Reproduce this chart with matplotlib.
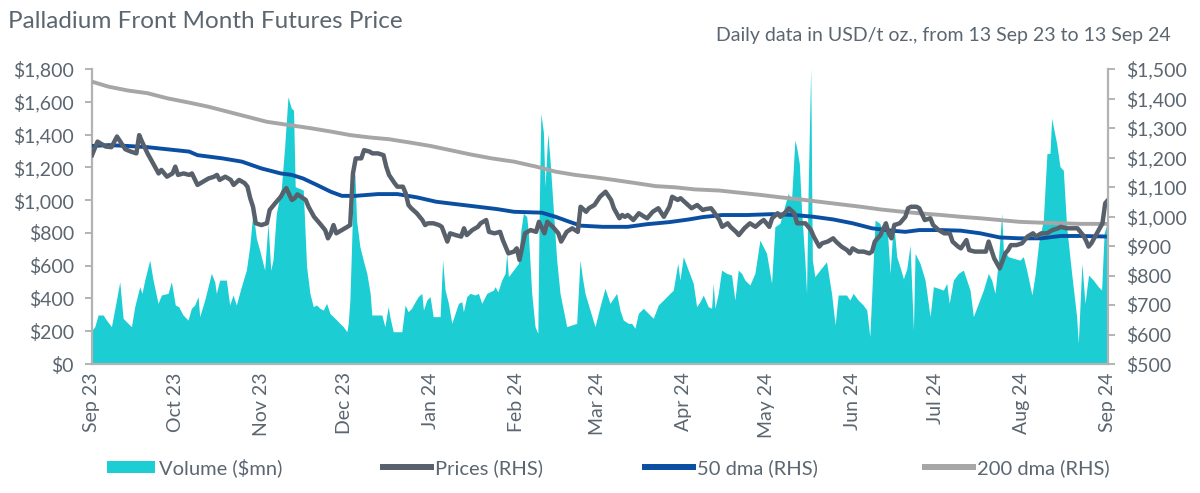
import numpy as np
import pandas as pd
import matplotlib
matplotlib.use("Agg")
import matplotlib.pyplot as plt
import matplotlib.dates as mdates
from matplotlib.patches import Patch
from matplotlib.lines import Line2D
from matplotlib.ticker import FuncFormatter, MultipleLocator

START = "2023-09-13"
END = "2024-09-13"

# (days after 13 Sep 23, value)
volume_pts = [
    (0, 207), (1.0, 228), (2.2, 299), (4.0, 299), (5.2, 268), (7.0, 228), (8.8, 390), (10.0, 502),
    (11.2, 279), (12.4, 258), (14.2, 228), (15.4, 350), (17.2, 472), (18.0, 431), (19.0, 512),
    (20.8, 634), (22.0, 512), (23.8, 370), (25.0, 421), (27.4, 431), (28.6, 502), (30.0, 360),
    (31.2, 350), (32.8, 299), (34.6, 268), (35.8, 340), (37.0, 360), (38.2, 411), (38.8, 289),
    (40.6, 390), (43.0, 553), (44.2, 502), (44.8, 431), (46.0, 512), (48.4, 512), (49.6, 360),
    (50.8, 421), (52.0, 360), (53.8, 472), (55.6, 573), (56.8, 716), (58.0, 929), (59.2, 767),
    (60.4, 695), (62.2, 573), (63.4, 858), (64.4, 573), (65.2, 634), (66.4, 919), (68.2, 1072),
    (69.4, 1326), (70.6, 1631), (71.8, 1560), (72.6, 1549), (73.2, 1082), (76.1, 1061), (77.3, 594),
    (78.5, 431), (79.7, 350), (80.9, 360), (82.1, 340), (83.3, 329), (84.5, 370), (85.7, 309),
    (87.5, 279), (89.3, 248), (90.5, 228), (91.8, 197), (92.3, 248), (92.9, 390), (93.5, 716),
    (94.1, 1082), (94.7, 1163), (95.3, 878), (96.5, 716), (97.7, 634), (99.0, 553), (100.2, 431),
    (100.8, 299), (102.6, 299), (104.4, 299), (105.5, 228), (106.7, 350), (107.3, 289), (108.5, 197),
    (110.3, 197), (111.6, 197), (112.8, 360), (113.9, 319), (115.1, 340), (116.4, 380), (117.5, 411),
    (118.8, 431), (119.4, 329), (120.6, 390), (121.8, 411), (122.9, 289), (125.4, 289), (126.3, 634),
    (127.2, 451), (128.4, 370), (129.6, 248), (130.8, 309), (132.0, 370), (133.2, 380), (133.8, 319),
    (135.0, 411), (136.2, 431), (138.0, 421), (139.2, 431), (140.4, 370), (142.2, 431), (144.6, 451),
    (145.2, 472), (146.2, 440), (147.6, 512), (148.8, 553), (149.4, 675), (150.0, 533), (151.8, 573),
    (153.6, 614), (154.5, 817), (155.4, 919), (156.6, 899), (157.2, 797), (158.4, 431), (159.6, 228),
    (160.6, 187), (161.1, 939), (161.7, 1529), (162.6, 1417), (163.2, 1082), (164.2, 1407),
    (165.0, 1244), (166.2, 939), (167.4, 634), (168.6, 431), (171.0, 228), (172.8, 238), (174.6, 248),
    (175.8, 634), (176.6, 533), (177.6, 431), (179.4, 329), (181.2, 228), (183.0, 350), (184.8, 462),
    (186.6, 370), (189.0, 431), (190.2, 329), (191.4, 268), (193.2, 248), (194.4, 248), (195.6, 218),
    (196.8, 309), (198.6, 340), (200.4, 309), (202.2, 279), (204.0, 360), (205.8, 390), (207.6, 421),
    (209.4, 451), (211.0, 614), (211.8, 512), (213.0, 655), (214.8, 573), (216.6, 492), (217.8, 350),
    (219.0, 380), (220.2, 420), (222.0, 350), (223.2, 340), (223.8, 492), (224.4, 340), (225.6, 431),
    (226.8, 573), (228.6, 553), (230.4, 543), (231.6, 390), (232.8, 573), (234.0, 553), (235.2, 512),
    (237.0, 482), (238.8, 553), (240.6, 756), (241.8, 716), (243.0, 675), (244.8, 492), (246.0, 838),
    (247.8, 858), (250.8, 1041), (252.0, 1000), (253.2, 1366), (253.8, 1326), (254.8, 1224),
    (255.6, 939), (256.8, 634), (257.4, 431), (258.0, 1082), (258.9, 1804), (259.5, 634), (260.4, 533),
    (262.2, 573), (264.6, 624), (266.4, 431), (267.7, 238), (268.8, 421), (270.0, 421), (271.8, 421),
    (273.0, 390), (274.2, 431), (276.0, 390), (277.8, 360), (279.1, 329), (280.2, 167), (281.4, 614),
    (282.1, 878), (283.8, 858), (285.0, 797), (286.3, 868), (287.5, 553), (288.7, 878), (289.9, 655),
    (291.1, 590), (292.3, 520), (293.5, 580), (294.7, 725), (295.9, 207), (296.5, 675), (298.3, 614),
    (300.1, 512), (301.9, 289), (303.1, 472), (304.9, 462), (306.7, 451), (307.9, 492), (308.8, 370),
    (310.3, 512), (312.1, 553), (313.9, 573), (315.1, 512), (316.3, 451), (317.5, 289), (319.3, 370),
    (321.1, 451), (322.9, 553), (324.1, 512), (325.3, 431), (326.5, 634), (327.7, 919), (328.3, 695),
    (330.1, 655), (331.9, 645), (334.3, 634), (335.5, 655), (336.7, 573), (338.6, 421), (339.8, 553),
    (341.0, 736), (342.7, 878), (344.0, 1285), (345.1, 1285), (345.7, 1499), (347.5, 1346),
    (348.7, 1204), (349.9, 1183), (351.1, 838), (352.9, 553), (354.7, 289), (355.3, 126), (356.6, 614),
    (357.7, 370), (359.0, 543), (360.7, 512), (362.5, 472), (363.7, 451), (364.6, 797), (366, 878),
]

price_pts = [
    (0, 1208), (2, 1254), (3, 1248), (5, 1237), (7, 1235), (9, 1271), (11, 1242), (12, 1228),
    (14, 1220), (16, 1214), (17, 1276), (18, 1254), (20, 1214), (22, 1180), (24, 1146), (25, 1158),
    (27, 1135), (29, 1146), (30, 1169), (31, 1141), (33, 1146), (35, 1141), (36, 1146), (38, 1107),
    (40, 1118), (42, 1129), (44, 1135), (45, 1141), (46, 1124), (48, 1135), (50, 1124), (51, 1107),
    (53, 1124), (55, 1113), (56, 1101), (57, 1062), (58, 1033), (59, 977), (61, 971), (63, 977),
    (64, 1022), (66, 1045), (68, 1067), (69, 1084), (70, 1096), (72, 1056), (73, 1062), (74, 1075),
    (77, 1056), (78, 1033), (80, 999), (82, 977), (84, 954), (85, 926), (86, 943), (87, 971),
    (88, 943), (90, 954), (92, 965), (93, 971), (94, 1146), (95, 1197), (97, 1197), (98, 1225),
    (100, 1220), (101, 1214), (103, 1214), (105, 1208), (106, 1169), (107, 1141), (109, 1113),
    (110, 1101), (112, 1101), (113, 1079), (114, 1039), (115, 1028), (117, 1011), (119, 988),
    (120, 971), (121, 977), (123, 977), (125, 971), (126, 965), (128, 915), (129, 943), (131, 937),
    (133, 932), (134, 960), (135, 937), (137, 954), (139, 965), (140, 977), (142, 988), (143, 948),
    (145, 943), (147, 948), (148, 920), (150, 875), (152, 881), (153, 892), (154, 853), (155, 898),
    (156, 943), (158, 954), (160, 948), (161, 982), (163, 943), (164, 982), (166, 965), (168, 943),
    (169, 915), (171, 948), (173, 960), (175, 948), (176, 1033), (178, 1016), (179, 1028),
    (181, 1039), (183, 1067), (185, 1084), (187, 1056), (188, 1028), (190, 994), (191, 1005),
    (192, 999), (193, 1005), (195, 988), (197, 1011), (199, 999), (200, 994), (202, 1016),
    (204, 1028), (206, 999), (208, 1033), (209, 1067), (211, 1056), (212, 1062), (214, 1045),
    (216, 1028), (218, 1039), (220, 1022), (221, 1025), (223, 1028), (224, 1016), (226, 988),
    (227, 965), (229, 977), (230, 965), (232, 948), (233, 937), (235, 960), (237, 977), (239, 965),
    (241, 982), (242, 988), (244, 965), (245, 994), (247, 1011), (248, 999), (250, 1016), (251, 1028),
    (253, 1011), (254, 977), (256, 977), (257, 977), (259, 954), (260, 932), (262, 898), (263, 909),
    (265, 915), (267, 926), (268, 915), (270, 898), (272, 886), (273, 875), (274, 892), (276, 881),
    (278, 881), (280, 875), (281, 881), (282, 915), (284, 937), (286, 977), (287, 943), (288, 926),
    (289, 971), (291, 977), (293, 999), (294, 1028), (295, 1033), (297, 1033), (298, 1028),
    (300, 988), (302, 994), (303, 971), (305, 954), (307, 943), (309, 943), (310, 915), (312, 898),
    (313, 892), (315, 920), (316, 886), (318, 881), (320, 881), (322, 881), (323, 915), (324, 886),
    (325, 858), (327, 824), (329, 875), (330, 886), (331, 903), (333, 903), (335, 909), (337, 932),
    (339, 943), (340, 932), (342, 943), (344, 943), (346, 954), (348, 960), (349, 965), (351, 960),
    (353, 960), (355, 960), (357, 937), (358, 920), (359, 898), (360, 909), (362, 943), (364, 977),
    (365, 1045), (366, 1056),
]

dma50_pts = [
    (0, 1239), (6, 1242), (13, 1239), (20, 1235), (27, 1228), (35, 1220), (38, 1208), (47, 1197),
    (54, 1186), (61, 1163), (68, 1146), (72, 1141), (76, 1129), (81, 1107), (86, 1084), (90, 1070),
    (95, 1070), (103, 1076), (110, 1076), (117, 1065), (124, 1050), (131, 1042), (139, 1033),
    (146, 1025), (152, 1016), (162, 1013), (167, 999), (172, 982), (176, 969), (184, 965), (193, 965),
    (200, 974), (208, 981), (215, 990), (220, 998), (227, 1005), (236, 1005), (245, 1008), (253, 1005),
    (260, 999), (267, 990), (274, 977), (281, 960), (288, 952), (293, 948), (298, 954), (306, 954),
    (313, 952), (320, 943), (327, 929), (334, 926), (342, 926), (349, 934), (356, 934), (366, 932),
]

dma200_pts = [
    (0, 1457), (6, 1440), (13, 1427), (20, 1418), (27, 1401), (35, 1386), (42, 1372), (49, 1355),
    (56, 1338), (63, 1321), (71, 1310), (79, 1299), (86, 1288), (93, 1276), (100, 1268), (107, 1262),
    (115, 1250), (122, 1239), (129, 1225), (136, 1211), (144, 1197), (152, 1186), (160, 1169),
    (167, 1152), (174, 1141), (181, 1133), (188, 1124), (196, 1113), (203, 1103), (210, 1099),
    (217, 1092), (226, 1088), (233, 1081), (241, 1073), (248, 1065), (255, 1058), (262, 1050),
    (269, 1042), (277, 1033), (284, 1024), (291, 1017), (298, 1011), (306, 1005), (313, 999),
    (320, 994), (327, 988), (334, 982), (342, 979), (349, 977), (356, 975), (366, 975),
]

labels = ["Volume ($mn)", "Prices (RHS)", "50 dma (RHS)", "200 dma (RHS)"]

TEXT = "#5b6670"
GRID = "#b3b3b3"
C_VOL = "#1ccdd4"
C_PRICE = "#58616b"
C_50 = "#0b4fa3"
C_200 = "#a6a6a6"

plt.rcParams["font.family"] = ["Lato", "DejaVu Sans"]


def to_dates(pts):
    days, vals = zip(*pts)
    return pd.Timestamp(START) + pd.to_timedelta(np.array(days), unit="D"), np.array(vals)


vol_x, vol_y = to_dates(volume_pts)
price_x, price_y = to_dates(price_pts)
d50_x, d50_y = to_dates(dma50_pts)
d200_x, d200_y = to_dates(dma200_pts)

fig = plt.figure(figsize=(12, 4.93), dpi=100)
ax = fig.add_axes([92 / 1200, 1 - 364 / 493, 1016 / 1200, 295 / 493])
ax2 = ax.twinx()

ax.fill_between(vol_x, 0, vol_y, color=C_VOL, lw=0)
ax2.plot(d200_x, d200_y, color=C_200, lw=2.8, solid_capstyle="butt")
ax2.plot(d50_x, d50_y, color=C_50, lw=2.8, solid_capstyle="butt")
ax2.plot(price_x, price_y, color=C_PRICE, lw=3.2, solid_joinstyle="round")

ax.set_xlim(pd.Timestamp(START), pd.Timestamp(END))
ax.set_ylim(0, 1800)
ax2.set_ylim(500, 1500)
ax.yaxis.set_major_locator(MultipleLocator(200))
ax2.yaxis.set_major_locator(MultipleLocator(100))
money = FuncFormatter(lambda v, p: f"${v:,.0f}")
ax.yaxis.set_major_formatter(money)
ax2.yaxis.set_major_formatter(money)

ax.xaxis.set_major_locator(mdates.MonthLocator(bymonthday=13))
ax.xaxis.set_major_formatter(mdates.DateFormatter("%b %y"))

for a in (ax, ax2):
    a.spines["top"].set_visible(False)
    for s in ["left", "right", "bottom"]:
        a.spines[s].set_color(GRID)
        a.spines[s].set_linewidth(1.6)
ax2.spines["left"].set_visible(False)
ax2.spines["bottom"].set_visible(False)
ax.spines["right"].set_visible(False)

ax.tick_params(axis="y", colors=GRID, labelcolor=TEXT, labelsize=14, length=5, width=1.4, pad=8)
ax2.tick_params(axis="y", colors=GRID, labelcolor=TEXT, labelsize=14, length=5, width=1.4, pad=8)
ax.tick_params(axis="x", length=0, labelcolor=TEXT, labelsize=14, pad=6, labelrotation=90)

fig.text(8 / 1200, 1 - 21 / 493, "Palladium Front Month Futures Price", fontsize=17.5,
         color=TEXT, ha="left", va="center")
fig.text(1171 / 1200, 1 - 36 / 493, "Daily data in USD/t oz., from 13 Sep 23 to 13 Sep 24",
         fontsize=14, color=TEXT, ha="right", va="center")

handles = [
    Patch(facecolor=C_VOL, edgecolor="none"),
    Line2D([], [], color=C_PRICE, lw=4.3),
    Line2D([], [], color=C_50, lw=4.3),
    Line2D([], [], color=C_200, lw=4.3),
]
leg_x = [107, 383, 645, 925]
for h, lab, x in zip(handles, labels, leg_x):
    fig.legend([h], [lab], loc="center left", bbox_to_anchor=(x / 1200, 1 - 468 / 493),
               frameon=False, fontsize=14.5, handlelength=2.4, handleheight=0.55,
               handletextpad=0.2, borderpad=0, borderaxespad=0, labelcolor=TEXT)

fig.savefig("out.png", dpi=100)
